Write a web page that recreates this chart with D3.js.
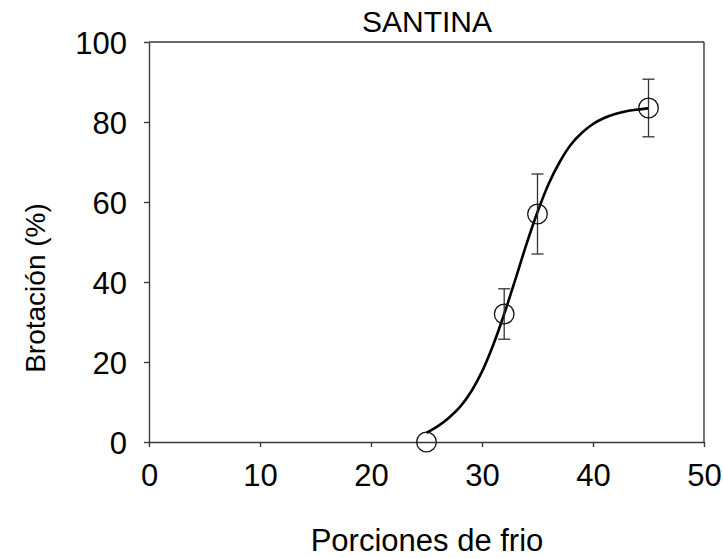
<!DOCTYPE html>
<html>
<head>
<meta charset="utf-8">
<script src="https://cdn.jsdelivr.net/npm/d3@7"></script>
<style>
  html, body { margin: 0; padding: 0; background: #fff; }
  svg text { font-family: "Liberation Sans", Arial, sans-serif; fill: #000; }
</style>
</head>
<body>
<svg id="chart" width="723" height="558"></svg>
<script>
// Observed bud break by chill portions (mean ± error)
const chillPortions = [25, 32, 35, 45];
const budBreak = [0, 32, 57, 83.5];
const budBreakErr = [0, 6.3, 10, 7.2];

// Fitted response curve, sampled at whole chill portions
const fitX = [25, 26, 27, 28, 29, 30, 31, 32, 33, 34, 35, 36, 37, 38, 39, 40, 41, 42, 43, 44, 45];
const fitY = [2.3, 3.9, 6.0, 8.7, 12.5, 17.6, 24.2, 32, 40.6, 49.4, 57.5, 64.5, 70, 74.3, 77.3, 79.5, 81, 82, 82.7, 83.1, 83.4];

const xTicks = [0, 10, 20, 30, 40, 50];
const yTicks = [0, 20, 40, 60, 80, 100];

const svg = d3.select("#chart");
const x = d3.scaleLinear().domain([0, 50]).range([149, 704]);
const y = d3.scaleLinear().domain([0, 100]).range([442, 42]);
const axisColor = "#3a3a3a";

// Frame: top and right borders
svg.append("line")
  .attr("x1", x(0)).attr("x2", x(50)).attr("y1", y(100)).attr("y2", y(100))
  .attr("stroke", axisColor).attr("stroke-width", 1.4);
svg.append("line")
  .attr("x1", x(50)).attr("x2", x(50)).attr("y1", y(100)).attr("y2", y(0))
  .attr("stroke", axisColor).attr("stroke-width", 1.4);

// Axes
const xAxis = svg.append("g")
  .attr("transform", `translate(0,${y(0)})`)
  .call(d3.axisBottom(x).tickValues(xTicks).tickSize(5).tickSizeOuter(0).tickPadding(17));
const yAxis = svg.append("g")
  .attr("transform", `translate(${x(0)},0)`)
  .call(d3.axisLeft(y).tickValues(yTicks).tickSize(5).tickSizeOuter(0).tickPadding(17));

[xAxis, yAxis].forEach(g => {
  g.select(".domain").attr("stroke", axisColor).attr("stroke-width", 1.4);
  g.selectAll(".tick line").attr("stroke", axisColor).attr("stroke-width", 1.4);
  g.selectAll(".tick text")
    .attr("fill", "#000")
    .style("font-family", '"Liberation Sans", Arial, sans-serif')
    .style("font-size", "31px");
});
xAxis.selectAll(".tick text").attr("dy", "0.71em");
yAxis.selectAll(".tick text").attr("dy", "0.36em");

// Fitted curve
const line = d3.line()
  .x((d, i) => x(fitX[i]))
  .y(d => y(d))
  .curve(d3.curveCatmullRom.alpha(0.5));
svg.append("path")
  .datum(fitY)
  .attr("d", line)
  .attr("fill", "none")
  .attr("stroke", "#000")
  .attr("stroke-width", 2.6);

// Error bars
const capHalf = 6;
const errG = svg.append("g").attr("stroke", "#333").attr("stroke-width", 1.3);
chillPortions.forEach((cx, i) => {
  const e = budBreakErr[i];
  if (!e) return;
  const px = x(cx), top = y(budBreak[i] + e), bot = y(budBreak[i] - e);
  errG.append("line").attr("x1", px).attr("x2", px).attr("y1", top).attr("y2", bot);
  errG.append("line").attr("x1", px - capHalf).attr("x2", px + capHalf).attr("y1", top).attr("y2", top);
  errG.append("line").attr("x1", px - capHalf).attr("x2", px + capHalf).attr("y1", bot).attr("y2", bot);
});

// Points (open circles)
svg.append("g").selectAll("circle")
  .data(chillPortions)
  .join("circle")
  .attr("cx", d => x(d))
  .attr("cy", (d, i) => y(budBreak[i]))
  .attr("r", 9.8)
  .attr("fill", "#fff")
  .attr("fill-opacity", 0)
  .attr("stroke", "#111")
  .attr("stroke-width", 1.3);

// Title
svg.append("text")
  .attr("x", 427).attr("y", 32)
  .attr("text-anchor", "middle")
  .style("font-size", "30px")
  .text("SANTINA");

// Axis titles
svg.append("text")
  .attr("x", 427).attr("y", 551)
  .attr("text-anchor", "middle")
  .style("font-size", "31px")
  .text("Porciones de frio");

svg.append("text")
  .attr("transform", "translate(45,288) rotate(-90)")
  .attr("text-anchor", "middle")
  .style("font-size", "28px")
  .text("Brotación (%)");
</script>
</body>
</html>
